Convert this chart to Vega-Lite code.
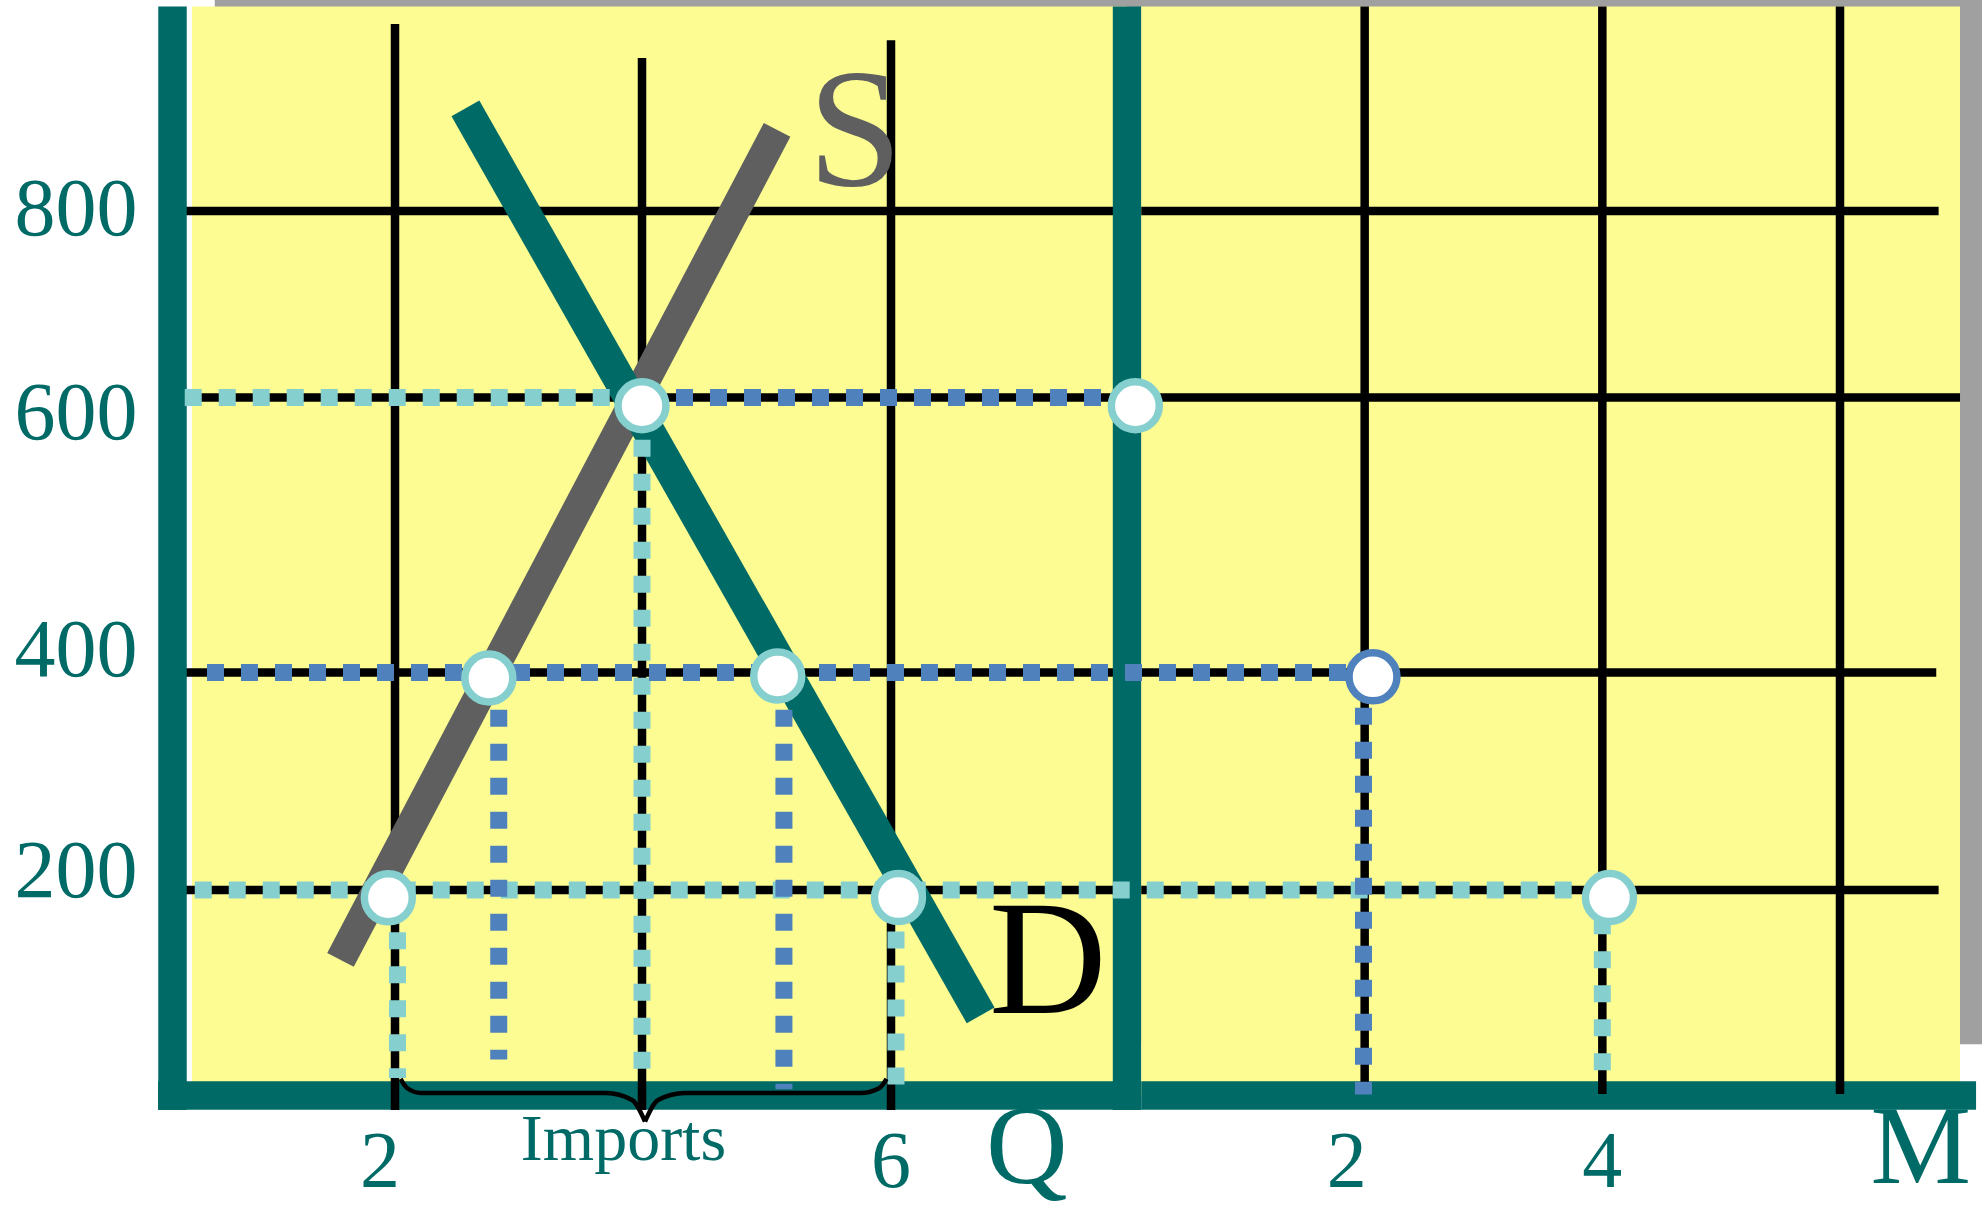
{
  "$schema": "https://vega.github.io/schema/vega-lite/v6.json",
  "width": 1982,
  "height": 1208,
  "padding": 0,
  "autosize": {"type": "none"},
  "background": "white",
  "config": {"view": {"stroke": null}},
  "datasets": {
    "shadowL": [{"q": 0.38, "q2": 8.02, "p": 55, "p2": 1027}],
    "yellowL": [{"q": 0.175, "q2": 7.896, "p": 0, "p2": 1019.4}],
    "gridHL": [
      {"q": 0, "q2": 7.896, "p": 800, "p2": 800},
      {"q": 0, "q2": 7.896, "p": 600, "p2": 600},
      {"q": 0, "q2": 7.896, "p": 400, "p2": 400},
      {"q": 0, "q2": 7.896, "p": 200, "p2": 200}
    ],
    "axesL": [
      {"q": 0, "q2": 0, "p": -14, "p2": 1019.4},
      {"q": 7.896, "q2": 7.896, "p": -14, "p2": 1019.4},
      {"q": -0.13, "q2": 7.896, "p": 0, "p2": 0}
    ],
    "gridVL": [
      {"q": 2, "q2": 2, "p": -14, "p2": 1000.5},
      {"q": 4, "q2": 4, "p": -14, "p2": 964},
      {"q": 6, "q2": 6, "p": -14, "p2": 983}
    ],
    "supply": [{"q": 1.51, "p": 132}, {"q": 5.085, "p": 887}],
    "demand": [{"q": 2.57, "p": 910}, {"q": 6.72, "p": 78}],
    "dotLightQ": [
      {"q": 0.11, "q2": 4, "p": 600, "p2": 600},
      {"q": 0.2, "q2": 7.896, "p": 200, "p2": 200},
      {"q": 2.02, "q2": 2.02, "p": 192, "p2": 17},
      {"q": 4, "q2": 4, "p": 594, "p2": 16.5},
      {"q": 6.04, "q2": 6.04, "p": 192.6, "p2": 7}
    ],
    "dotBlueQ": [
      {"q": 4, "q2": 7.92, "p": 600, "p2": 600},
      {"q": 0.31, "q2": 7.896, "p": 400, "p2": 400},
      {"q": 2.84, "q2": 2.84, "p": 397, "p2": 35},
      {"q": 5.14, "q2": 5.14, "p": 397, "p2": 6}
    ],
    "brace": [
      {"q": 2.045, "p": 16.1, "half": "L"},
      {"q": 2.097, "p": 7.3, "half": "L"},
      {"q": 2.21, "p": 2.4, "half": "L"},
      {"q": 3.709, "p": 2.4, "half": "L"},
      {"q": 3.92, "p": -4.4, "half": "L"},
      {"q": 4.024, "p": -25.3, "half": "L"},
      {"q": 4.024, "p": -25.3, "half": "R"},
      {"q": 4.129, "p": -4.4, "half": "R"},
      {"q": 4.345, "p": 2.4, "half": "R"},
      {"q": 5.759, "p": 2.4, "half": "R"},
      {"q": 5.908, "p": 7.3, "half": "R"},
      {"q": 5.964, "p": 16.1, "half": "R"}
    ],
    "circLightQ": [
      {"q": 1.94, "p": 192.4},
      {"q": 2.76, "p": 395},
      {"q": 4.0, "p": 594},
      {"q": 5.09, "p": 396.8},
      {"q": 6.06, "p": 192.6}
    ],
    "textS": [{"q": 5.71, "p": 828, "label": "S"}],
    "textD": [{"q": 7.26, "p": 80.3, "label": "D"}],
    "textQ": [{"q": 7.09, "p": -85.2, "label": "Q"}],
    "ticksQ": [
      {"q": 1.865, "p": -89.2, "label": "2"},
      {"q": 6, "p": -89.2, "label": "6"}
    ],
    "imports": [{"q": 3.85, "p": -62.8, "label": "Imports"}],
    "shadowR": [{"m": 0.12, "m2": 7.2, "p": 50, "p2": 1027}],
    "yellowR": [{"m": 0.12, "m2": 7.01, "p": 0, "p2": 1019.4}],
    "gridHR": [
      {"m": 0.12, "m2": 6.83, "p": 800, "p2": 800},
      {"m": 0.12, "m2": 7.01, "p": 600, "p2": 600},
      {"m": 0.12, "m2": 6.81, "p": 400, "p2": 400},
      {"m": 0.12, "m2": 6.83, "p": 200, "p2": 200}
    ],
    "axisR": [{"m": 0.12, "m2": 7.145, "p": 0, "p2": 0}],
    "gridVR": [
      {"m": 2, "m2": 2, "p": 1.5, "p2": 1019.4},
      {"m": 4, "m2": 4, "p": 1.5, "p2": 1019.4},
      {"m": 6, "m2": 6, "p": 1.5, "p2": 1019.4}
    ],
    "dotLightM": [
      {"m": 0, "m2": 4, "p": 200, "p2": 200},
      {"m": 4, "m2": 4, "p": 192.6, "p2": 8}
    ],
    "dotBlueM": [
      {"m": 0, "m2": 2, "p": 400, "p2": 400},
      {"m": 1.99, "m2": 1.99, "p": 397, "p2": 1}
    ],
    "circLightM": [
      {"m": 0.07, "p": 594},
      {"m": 4.06, "p": 192.6}
    ],
    "circBlueM": [{"m": 2.07, "p": 396}],
    "ticksM": [
      {"m": 1.85, "p": -89.2, "label": "2"},
      {"m": 4.0, "p": -89.2, "label": "4"}
    ],
    "textM": [{"m": 6.68, "p": -85.2, "label": "M"}]
  },
  "encoding": {
    "y": {
      "field": "p",
      "type": "quantitative",
      "scale": {"domain": [0, 200, 400, 600, 800], "range": [1095.5, 890, 672.5, 397.5, 211], "nice": false, "zero": false},
      "axis": {
        "values": [200, 400, 600, 800],
        "orient": "left",
        "offset": -140,
        "domain": false,
        "ticks": false,
        "tickSize": 0,
        "grid": false,
        "title": null,
        "format": "d",
        "labelFont": "Liberation Serif",
        "labelFontSize": 82,
        "labelColor": "#006A66",
        "labelPadding": 3,
        "labelAlign": "right",
        "labelBaseline": "middle",
        "labelFlush": false,
        "labelOverlap": false,
        "labelOffset": {"expr": "datum.value == 600 ? 16 : datum.value == 400 ? -22 : datum.value == 200 ? -19 : -2"}
      }
    }
  },
  "layer": [
    {
      "encoding": {
        "x": {"field": "q", "type": "quantitative", "scale": {"domain": [0, 2, 4, 6], "range": [172.5, 395, 642, 891], "nice": false, "zero": false}, "axis": null}
      },
      "layer": [
        {"data": {"name": "shadowL"}, "mark": {"type": "rect", "fill": "#A0A0A0"}, "encoding": {"x2": {"field": "q2"}, "y2": {"field": "p2"}}},
        {"data": {"name": "yellowL"}, "mark": {"type": "rect", "fill": "#FCFC93"}, "encoding": {"x2": {"field": "q2"}, "y2": {"field": "p2"}}},
        {"data": {"name": "gridHL"}, "mark": {"type": "rule", "stroke": "#000000", "strokeWidth": 8.5}, "encoding": {"x2": {"field": "q2"}, "y2": {"field": "p2"}}},
        {"data": {"name": "axesL"}, "mark": {"type": "rule", "stroke": "#006A66", "strokeWidth": 28.5}, "encoding": {"x2": {"field": "q2"}, "y2": {"field": "p2"}}},
        {"data": {"name": "gridVL"}, "mark": {"type": "rule", "stroke": "#000000", "strokeWidth": 8.5}, "encoding": {"x2": {"field": "q2"}, "y2": {"field": "p2"}}},
        {"data": {"name": "supply"}, "mark": {"type": "line", "stroke": "#5F5F5F", "strokeWidth": 30, "strokeCap": "butt"}, "encoding": {}},
        {"data": {"name": "demand"}, "mark": {"type": "line", "stroke": "#006A66", "strokeWidth": 32, "strokeCap": "butt"}, "encoding": {}},
        {"data": {"name": "dotLightQ"}, "mark": {"type": "rule", "stroke": "#86CFCF", "strokeWidth": 17, "strokeDash": [17, 17]}, "encoding": {"x2": {"field": "q2"}, "y2": {"field": "p2"}}},
        {"data": {"name": "dotBlueQ"}, "mark": {"type": "rule", "stroke": "#4F81BD", "strokeWidth": 17, "strokeDash": [17, 17]}, "encoding": {"x2": {"field": "q2"}, "y2": {"field": "p2"}}},
        {"data": {"name": "brace"}, "mark": {"type": "line", "stroke": "#000000", "strokeWidth": 4.5, "interpolate": "monotone"}, "encoding": {"detail": {"field": "half"}}},
        {"data": {"name": "circLightQ"}, "mark": {"type": "point", "shape": "circle", "size": 2300, "filled": true, "fill": "#FFFFFF", "stroke": "#86CFCF", "strokeWidth": 7.5, "opacity": 1}, "encoding": {}},
        {"data": {"name": "textS"}, "mark": {"type": "text", "font": "Liberation Serif", "fontSize": 170, "fill": "#5F5F5F", "align": "center", "baseline": "alphabetic"}, "encoding": {"text": {"field": "label"}}},
        {"data": {"name": "textD"}, "mark": {"type": "text", "font": "Liberation Serif", "fontSize": 163, "fill": "#000000", "align": "center", "baseline": "alphabetic"}, "encoding": {"text": {"field": "label"}}},
        {"data": {"name": "textQ"}, "mark": {"type": "text", "font": "Liberation Serif", "fontSize": 113, "fill": "#006A66", "align": "center", "baseline": "alphabetic"}, "encoding": {"text": {"field": "label"}}},
        {"data": {"name": "ticksQ"}, "mark": {"type": "text", "font": "Liberation Serif", "fontSize": 80, "fill": "#006A66", "align": "center", "baseline": "alphabetic"}, "encoding": {"text": {"field": "label"}}},
        {"data": {"name": "imports"}, "mark": {"type": "text", "font": "Liberation Serif", "fontSize": 66, "fill": "#006A66", "align": "center", "baseline": "alphabetic"}, "encoding": {"text": {"field": "label"}}}
      ]
    },
    {
      "encoding": {
        "x": {"field": "m", "type": "quantitative", "scale": {"domain": [0, 6], "range": [1127, 1840], "nice": false, "zero": false}, "axis": null}
      },
      "layer": [
        {"data": {"name": "shadowR"}, "mark": {"type": "rect", "fill": "#A0A0A0"}, "encoding": {"x2": {"field": "m2"}, "y2": {"field": "p2"}}},
        {"data": {"name": "yellowR"}, "mark": {"type": "rect", "fill": "#FCFC93"}, "encoding": {"x2": {"field": "m2"}, "y2": {"field": "p2"}}},
        {"data": {"name": "gridHR"}, "mark": {"type": "rule", "stroke": "#000000", "strokeWidth": 8.5}, "encoding": {"x2": {"field": "m2"}, "y2": {"field": "p2"}}},
        {"data": {"name": "axisR"}, "mark": {"type": "rule", "stroke": "#006A66", "strokeWidth": 28.5}, "encoding": {"x2": {"field": "m2"}, "y2": {"field": "p2"}}},
        {"data": {"name": "gridVR"}, "mark": {"type": "rule", "stroke": "#000000", "strokeWidth": 8.5}, "encoding": {"x2": {"field": "m2"}, "y2": {"field": "p2"}}},
        {"data": {"name": "dotLightM"}, "mark": {"type": "rule", "stroke": "#86CFCF", "strokeWidth": 17, "strokeDash": [17, 17], "strokeDashOffset": 14.3}, "encoding": {"x2": {"field": "m2"}, "y2": {"field": "p2"}}},
        {"data": {"name": "dotBlueM"}, "mark": {"type": "rule", "stroke": "#4F81BD", "strokeWidth": 17, "strokeDash": [17, 17], "strokeDashOffset": 2}, "encoding": {"x2": {"field": "m2"}, "y2": {"field": "p2"}}},
        {"data": {"name": "circLightM"}, "mark": {"type": "point", "shape": "circle", "size": 2300, "filled": true, "fill": "#FFFFFF", "stroke": "#86CFCF", "strokeWidth": 7.5, "opacity": 1}, "encoding": {}},
        {"data": {"name": "circBlueM"}, "mark": {"type": "point", "shape": "circle", "size": 2300, "filled": true, "fill": "#FFFFFF", "stroke": "#4F81BD", "strokeWidth": 7.5, "opacity": 1}, "encoding": {}},
        {"data": {"name": "ticksM"}, "mark": {"type": "text", "font": "Liberation Serif", "fontSize": 80, "fill": "#006A66", "align": "center", "baseline": "alphabetic"}, "encoding": {"text": {"field": "label"}}},
        {"data": {"name": "textM"}, "mark": {"type": "text", "font": "Liberation Serif", "fontSize": 113, "fill": "#006A66", "align": "center", "baseline": "alphabetic"}, "encoding": {"text": {"field": "label"}}}
      ]
    }
  ],
  "resolve": {"scale": {"x": "independent"}}
}
